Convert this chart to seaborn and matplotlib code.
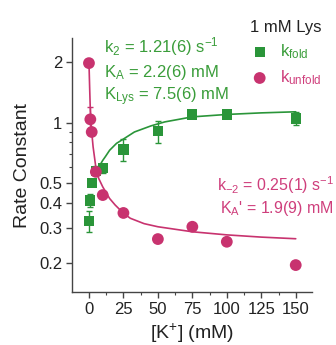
import matplotlib
matplotlib.use("Agg")
import matplotlib.pyplot as plt
import seaborn as sns
import pandas as pd
from matplotlib.ticker import FixedLocator, FixedFormatter, NullFormatter

# ---------------- data ----------------
k_conc = [0, 1, 2, 5, 10, 25, 50, 75, 100, 150]
k_fold = [0.325, 0.41, 0.50, 0.577, 0.595, 0.737, 0.91, 1.10, 1.10, 1.05]
k_fold_err = [0.04, 0.03, 0.015, 0.03, 0.03, 0.09, 0.115, 0.03, 0.02, 0.08]
k_unfold = [1.98, 1.04, 0.90, 0.57, 0.437, 0.356, 0.264, 0.304, 0.256, 0.196]
k_unfold_err = [0.0, 0.16, 0.0, 0.0, 0.0, 0.0, 0.0, 0.0, 0.0, 0.0]

fit_fold_x = [5, 7, 10, 12, 15, 20, 25, 33, 45, 55, 75, 100, 125, 150]
fit_fold_y = [0.55, 0.60, 0.65, 0.68, 0.73, 0.79, 0.83, 0.90, 0.965, 1.01, 1.07, 1.10, 1.12, 1.134]
fit_unfold_x = [0, 0.5, 1, 2, 3, 5, 7, 10, 12, 15, 19, 25, 30, 40, 50, 75, 100, 125, 150]
fit_unfold_y = [2.0, 1.5, 1.15, 0.90, 0.76, 0.60, 0.53, 0.48, 0.455, 0.42, 0.39, 0.355, 0.335,
                0.315, 0.304, 0.287, 0.277, 0.270, 0.265]

y_ticks = [0.2, 0.3, 0.4, 0.5, 1, 2]
y_tick_labels = ["0.2", "0.3", "0.4", "0.5", "1", "2"]
y_minor = [0.6, 0.7, 0.8, 0.9]
x_ticks = [0, 25, 50, 75, 100, 125, 150]

GREEN = "#2a9539"
PINK = "#c8336f"
GREEN_TXT = "#3a9d3a"
PINK_TXT = "#cf3f7c"

sns.set_theme(style="ticks")
plt.rcParams["font.family"] = ["Liberation Sans", "DejaVu Sans"]
plt.rcParams["mathtext.fontset"] = "custom"
plt.rcParams["mathtext.rm"] = "Liberation Sans"
plt.rcParams["mathtext.it"] = "Liberation Sans"
plt.rcParams["mathtext.default"] = "regular"

fig = plt.figure(figsize=(3.36, 3.45), dpi=100)
ax = fig.add_axes([72 / 336, 1 - 292 / 345, (312 - 72) / 336, (292 - 38) / 345])

df_fold = pd.DataFrame({"K": k_conc, "k": k_fold})
df_unfold = pd.DataFrame({"K": k_conc, "k": k_unfold})
df_fit_fold = pd.DataFrame({"K": fit_fold_x, "k": fit_fold_y})
df_fit_unfold = pd.DataFrame({"K": fit_unfold_x, "k": fit_unfold_y})

sns.lineplot(data=df_fit_fold, x="K", y="k", ax=ax, color=GREEN, lw=1.2, zorder=2, legend=False)
sns.lineplot(data=df_fit_unfold, x="K", y="k", ax=ax, color=PINK, lw=1.2, zorder=2, legend=False)

ax.errorbar(k_conc, k_fold, yerr=k_fold_err, fmt="none", ecolor=GREEN, elinewidth=1.0,
            capsize=2.5, capthick=1.0, zorder=3)
ax.errorbar(k_conc, k_unfold, yerr=k_unfold_err, fmt="none", ecolor=PINK, elinewidth=1.0,
            capsize=2.5, capthick=1.0, zorder=3)

sns.scatterplot(data=df_fold, x="K", y="k", ax=ax, marker="s", s=55, color=GREEN,
                edgecolor="none", zorder=4, label=r"k$_{\mathrm{fold}}$")
sns.scatterplot(data=df_unfold, x="K", y="k", ax=ax, marker="o", s=72, color=PINK,
                edgecolor="none", zorder=5, label=r"k$_{\mathrm{unfold}}$")

ax.set_yscale("log")
ax.set_xlim(-12.3, 161.8)
ax.set_ylim(0.144, 2.64)
ax.yaxis.set_major_locator(FixedLocator(y_ticks))
ax.yaxis.set_major_formatter(FixedFormatter(y_tick_labels))
ax.yaxis.set_minor_locator(FixedLocator(y_minor))
ax.yaxis.set_minor_formatter(NullFormatter())
ax.set_xticks(x_ticks)
ax.xaxis.set_minor_locator(FixedLocator([12.5, 37.5, 62.5, 87.5, 112.5, 137.5]))

for s in ["top", "right"]:
    ax.spines[s].set_visible(False)
for s in ["left", "bottom"]:
    ax.spines[s].set_color("#444444")
    ax.spines[s].set_linewidth(1.0)
ax.tick_params(axis="both", which="major", labelsize=12, length=4, width=1.0,
               color="#444444", labelcolor="#222222", pad=3)
ax.tick_params(axis="both", which="minor", length=2.5, width=0.8, color="#444444")

ax.set_xlabel(r"[K$^{+}$] (mM)", fontsize=14, color="#222222", labelpad=3.5)
ax.set_ylabel("Rate Constant", fontsize=14, color="#222222", labelpad=6)

# annotations
ann_kw = dict(transform=fig.transFigure, fontsize=12, va="center", ha="left")
fig.text(104 / 336, 1 - 47 / 345, r"k$_2$ = 1.21(6) s$^{-1}$", color=GREEN_TXT, **ann_kw)
fig.text(104 / 336, 1 - 72 / 345, r"K$_A$ = 2.2(6) mM", color=GREEN_TXT, **ann_kw)
fig.text(104 / 336, 1 - 97 / 345, r"K$_{\mathrm{Lys}}$ = 7.5(6) mM", color=GREEN_TXT, **ann_kw)
ann_kw2 = dict(transform=fig.transFigure, fontsize=11.5, va="center", ha="right")
fig.text(334 / 336, 1 - 185 / 345, r"k$_{-2}$ = 0.25(1) s$^{-1}$", color=PINK_TXT, **ann_kw2)
fig.text(334 / 336, 1 - 209 / 345, r"K$_A$' = 1.9(9) mM", color=PINK_TXT, **ann_kw2)

handles, labels = ax.get_legend_handles_labels()
leg = ax.legend(handles, labels, title="1 mM Lys", loc="upper left",
                bbox_to_anchor=(238 / 336, 1 - 8 / 345), bbox_transform=fig.transFigure,
                frameon=False, fontsize=12, title_fontsize=12, handletextpad=0.6,
                borderpad=0.2, labelspacing=0.45, handlelength=1.2, markerscale=1.0)
for t, c in zip(leg.get_texts(), [GREEN_TXT, PINK_TXT]):
    t.set_color(c)
leg.get_title().set_color("#222222")

fig.savefig("out.png", dpi=100)
